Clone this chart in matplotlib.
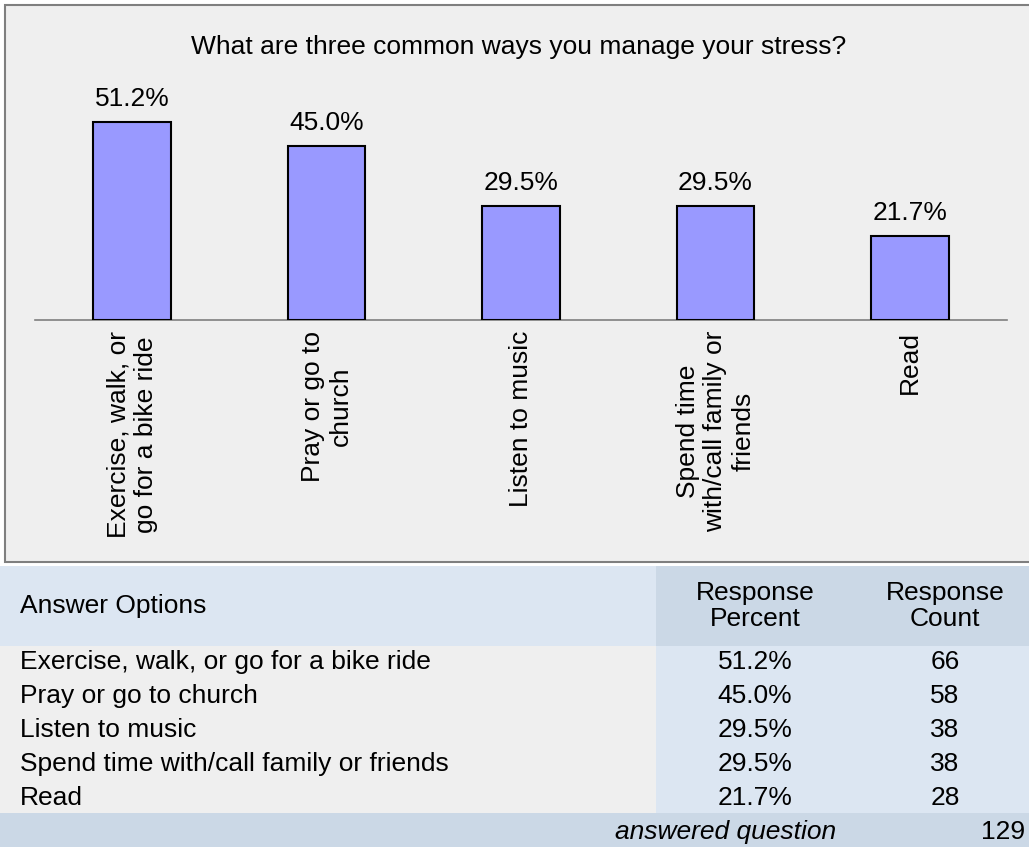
import matplotlib.pyplot as plt
from matplotlib.patches import Rectangle

plt.rcParams['font.family'] = ['Liberation Sans', 'DejaVu Sans']

# survey data
title = "What are three common ways you manage your stress?"
options = ["Exercise, walk, or go for a bike ride",
           "Pray or go to church",
           "Listen to music",
           "Spend time with/call family or friends",
           "Read"]
axis_labels = ["Exercise, walk, or\ngo for a bike ride",
               "Pray or go to\nchurch",
               "Listen to music",
               "Spend time\nwith/call family or\nfriends",
               "Read"]
percents = [51.2, 45.0, 29.5, 29.5, 21.7]
counts = [66, 58, 38, 38, 28]
answered = 129

W, H = 1029, 847
fig = plt.figure(figsize=(W / 100, H / 100), dpi=100)
fig.patch.set_facecolor('white')

def fx(x):
    return x / W

def fy(y):
    return 1 - y / H

def rect(x0, y0, x1, y1, color, **kw):
    fig.patches.append(Rectangle((fx(x0), fy(y1)), fx(x1 - x0), (y1 - y0) / H,
                                 transform=fig.transFigure, facecolor=color,
                                 edgecolor=kw.get('ec', 'none'),
                                 linewidth=kw.get('lw', 0), zorder=-5))

FS = 19

# chart frame
rect(5, 5, 1040, 562, '#EFEFEF', ec='#7F7F7F', lw=1.5)
fig.text(fx(519), fy(47), title, ha='center', va='center', fontsize=FS)

# bar chart
base_y, top_y = 320, 88
ax = fig.add_axes([fx(35), fy(base_y), fx(1007 - 35), (base_y - top_y) / H])
ax.set_zorder(2)
ax.set_facecolor('none')
xs = list(range(len(percents)))
ax.bar(xs, percents, width=0.4, color='#9999FF', edgecolor='black', linewidth=1.5, zorder=3)
for x, v in zip(xs, percents):
    ax.annotate(f"{v:.1f}%", (x, v), xytext=(0, 8), textcoords='offset points',
                ha='center', va='bottom', fontsize=FS)
ax.set_xlim(-0.5, 4.5)
ax.set_ylim(0, 60)
ax.set_yticks([])
ax.set_xticks(xs)
ax.set_xticklabels(axis_labels, rotation=90, fontsize=FS)
for lab in ax.get_xticklabels():
    lab.set_multialignment('center')
ax.tick_params(axis='x', length=0, pad=8)
for s in ['top', 'left', 'right']:
    ax.spines[s].set_visible(False)
ax.spines['bottom'].set_color('#7F7F7F')
ax.spines['bottom'].set_linewidth(1.2)

# table backgrounds
col_split = 656
rect(0, 566, col_split, 646, '#DCE6F2')
rect(col_split, 566, W, 646, '#CBD8E6')
rect(0, 646, col_split, 813, '#EFEFEF')
rect(col_split, 646, W, 813, '#DCE6F2')
rect(0, 813, W, H, '#CBD8E6')

tfs = FS
fig.text(fx(20), fy(606), "Answer Options", ha='left', va='center', fontsize=tfs)
fig.text(fx(755), fy(606), "Response\nPercent", ha='center', va='center',
         fontsize=tfs, linespacing=1.15)
fig.text(fx(945), fy(606), "Response\nCount", ha='center', va='center',
         fontsize=tfs, linespacing=1.15)

row0, row_h = 662, 34
for i, (opt, p, c) in enumerate(zip(options, percents, counts)):
    y = row0 + i * row_h
    fig.text(fx(20), fy(y), opt, ha='left', va='center', fontsize=tfs)
    fig.text(fx(755), fy(y), f"{p:.1f}%", ha='center', va='center', fontsize=tfs)
    fig.text(fx(945), fy(y), str(c), ha='center', va='center', fontsize=tfs)

fig.text(fx(836), fy(832), "answered question", ha='right', va='center',
         fontsize=tfs, style='italic')
fig.text(fx(1025), fy(832), str(answered), ha='right', va='center', fontsize=tfs)

fig.savefig('out.png', dpi=100)
